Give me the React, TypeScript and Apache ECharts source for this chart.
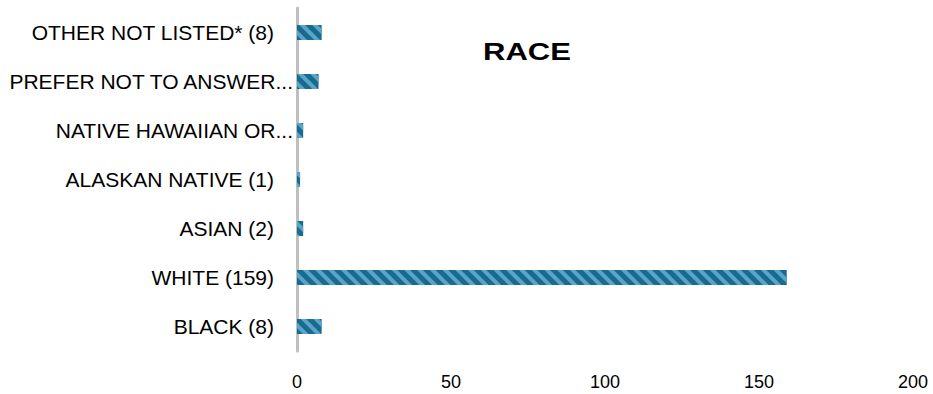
import React, { useEffect, useRef } from "react";
import * as echarts from "echarts";

const categories = [
  "BLACK (8)",
  "WHITE (159)",
  "ASIAN (2)",
  "ALASKAN NATIVE (1)",
  "NATIVE HAWAIIAN OR...",
  "PREFER NOT TO ANSWER...",
  "OTHER NOT LISTED* (8)",
];
const values = [8, 159, 2, 1, 2, 7, 8];
const xTicks = { min: 0, max: 200, interval: 50 };
const title = "RACE";

export default function App() {
  const ref = useRef<HTMLDivElement>(null);
  useEffect(() => {
    if (!ref.current) return;
    const chart = echarts.init(ref.current, null, { renderer: "svg" });
    const labelFont = "Liberation Sans, Arial, sans-serif";
    chart.setOption({
      animation: false,
      backgroundColor: "#ffffff",
      graphic: [
        {
          type: "text",
          x: 527,
          y: 52,
          scaleX: 1.35,
          style: {
            text: title,
            fontFamily: labelFont,
            fontSize: 23,
            fontWeight: "bold",
            fill: "#000",
            align: "center",
            verticalAlign: "middle",
          },
        },
      ],
      grid: { left: 297, right: 20, top: 8, bottom: 43, containLabel: false },
      xAxis: {
        type: "value",
        min: xTicks.min,
        max: xTicks.max,
        interval: xTicks.interval,
        axisLine: { show: false },
        axisTick: { show: false },
        splitLine: { show: false },
        axisLabel: {
          margin: 22,
          fontFamily: labelFont,
          fontSize: 18,
          color: "#000",
        },
      },
      yAxis: {
        type: "category",
        data: categories,
        axisLine: { show: true, lineStyle: { color: "#bfbfbf", width: 3 } },
        axisTick: { show: false },
        axisLabel: {
          margin: 4,
          fontFamily: labelFont,
          fontSize: 21,
          color: "#000",
          formatter: (v: string) =>
            v.endsWith("...") ? "{t|" + v + "}" : "{n|" + v + "}",
          rich: {
            t: { fontFamily: labelFont, fontSize: 21, color: "#000" },
            n: {
              fontFamily: labelFont,
              fontSize: 21,
              color: "#000",
              padding: [0, 19, 0, 0],
            },
          },
        },
      },
      series: [
        {
          type: "bar",
          data: values,
          barWidth: 15,
          itemStyle: {
            color: "#176b8f",
            decal: {
              symbol: "rect",
              dashArrayX: [1, 0],
              dashArrayY: [4, 5],
              rotation: Math.PI / 4,
              color: "#5ba4c7",
              symbolSize: 1,
            },
          },
        },
      ],
    });
    return () => chart.dispose();
  }, []);
  return (
    <div
      ref={ref}
      style={{ position: "absolute", left: 0, top: 0, width: 933, height: 394 }}
    />
  );
}
